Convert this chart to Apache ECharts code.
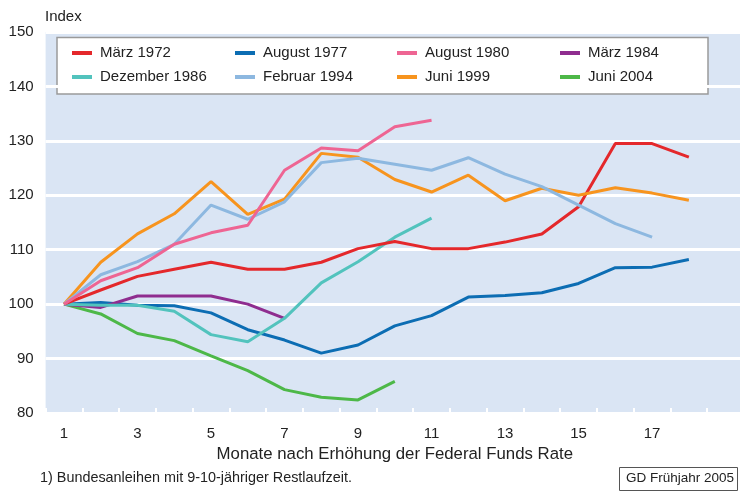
<!DOCTYPE html>
<html>
<head>
<meta charset="utf-8">
<script src="https://cdn.jsdelivr.net/npm/echarts@6/dist/echarts.min.js"></script>
<style>
  html, body { margin: 0; padding: 0; overflow: hidden; background: #fff; }
</style>
</head>
<body>
<div id="main" style="width: 744px; height: 493px;"></div>
<script type="text/javascript">
// months after the rate increase (last band left empty, plot runs on)
var months = ['1','2','3','4','5','6','7','8','9','10','11','12','13','14','15','16','17','18',''];

var maerz1972   = [100, 102.6, 105.1, 106.4, 107.7, 106.4, 106.4, 107.7, 110.2, 111.5, 110.2, 110.2, 111.4, 112.9, 117.9, 129.5, 129.5, 127.0];
var august1977  = [100, 100.3, 99.8, 99.7, 98.4, 95.3, 93.4, 91.0, 92.5, 96.0, 97.9, 101.3, 101.6, 102.1, 103.8, 106.7, 106.8, 108.2];
var august1980  = [100, 104.3, 106.7, 111.0, 113.1, 114.5, 124.6, 128.7, 128.2, 132.6, 133.8];
var maerz1984   = [100, 99.4, 101.5, 101.5, 101.5, 100.0, 97.4];
var dezember1986 = [100, 99.8, 99.8, 98.7, 94.4, 93.1, 97.4, 103.9, 107.8, 112.3, 115.8];
var februar1994 = [100, 105.4, 107.8, 111.0, 118.2, 115.6, 118.8, 126.0, 126.8, 125.7, 124.6, 126.9, 123.9, 121.6, 118.2, 114.8, 112.3];
var juni1999    = [100, 107.7, 112.9, 116.6, 122.5, 116.5, 119.3, 127.7, 127.0, 122.9, 120.6, 123.7, 119.0, 121.3, 120.0, 121.4, 120.4, 119.1];
var juni2004    = [100, 98.2, 94.6, 93.3, 90.5, 87.8, 84.3, 82.9, 82.4, 85.8];

var seriesDefs = [
  { name: 'März 1972',     data: maerz1972,    color: '#e4282b' },
  { name: 'Dezember 1986', data: dezember1986, color: '#52c3bd' },
  { name: 'August 1977',   data: august1977,   color: '#0c6db3' },
  { name: 'Februar 1994',  data: februar1994,  color: '#8db8e0' },
  { name: 'August 1980',   data: august1980,   color: '#ee6593' },
  { name: 'Juni 1999',     data: juni1999,     color: '#f7941e' },
  { name: 'März 1984',     data: maerz1984,    color: '#8f2d8f' },
  { name: 'Juni 2004',     data: juni2004,     color: '#4db848' }
];
// draw order (back to front)
var drawOrder = ['Juni 2004', 'August 1977', 'März 1984', 'Dezember 1986', 'März 1972', 'Juni 1999', 'Februar 1994', 'August 1980'];

var font = 'Liberation Sans, Arial, sans-serif';
var legendCols = [72, 235, 397, 560];

var legends = legendCols.map(function (x, i) {
  return {
    data: [seriesDefs[i * 2].name, seriesDefs[i * 2 + 1].name],
    orient: 'vertical',
    left: x,
    top: 45,
    padding: 0,
    itemGap: 8,
    itemWidth: 20,
    itemHeight: 4,
    icon: 'rect',
    selectedMode: false,
    textStyle: { fontFamily: font, fontSize: 15, color: '#222', lineHeight: 16, padding: [0, 0, 0, 3] }
  };
});

var series = drawOrder.map(function (n) {
  var s = seriesDefs.filter(function (d) { return d.name === n; })[0];
  return {
    name: s.name,
    type: 'line',
    data: s.data,
    symbol: 'none',
    color: s.color,
    lineStyle: { width: 3, color: s.color },
    animation: false
  };
});

var myChart = echarts.init(document.getElementById('main'));
myChart.setOption({
  animation: false,
  grid: {
    left: 45.6, right: 0, top: 32, bottom: 80,
    show: true, backgroundColor: '#dae5f4', borderWidth: 0
  },
  legend: legends,
  graphic: [
    {
      type: 'rect', z: 0,
      shape: { x: 57, y: 37.5, width: 651, height: 56.5 },
      style: { fill: '#fff', stroke: '#9a9a9a', lineWidth: 1.5 }
    },
    {
      type: 'text', left: 45, top: 9,
      style: { text: 'Index', fontFamily: font, fontSize: 15, fill: '#222' }
    },
    {
      type: 'text', left: 40, top: 471,
      style: { text: '1) Bundesanleihen mit 9-10-jähriger Restlaufzeit.', fontFamily: font, fontSize: 14.4, fill: '#222' }
    },
    {
      type: 'rect',
      shape: { x: 619.5, y: 467.5, width: 118, height: 23 },
      style: { fill: '#fff', stroke: '#555', lineWidth: 1 }
    },
    {
      type: 'text', left: 626, top: 471.5,
      style: { text: 'GD Frühjahr 2005', fontFamily: font, fontSize: 13.5, fill: '#222' }
    }
  ],
  xAxis: {
    type: 'category',
    data: months,
    boundaryGap: true,
    name: 'Monate nach Erhöhung der Federal Funds Rate',
    nameLocation: 'middle',
    nameGap: 32,
    nameTextStyle: { fontFamily: font, fontSize: 16.8, color: '#222' },
    axisLine: { show: false },
    axisTick: { show: true, inside: true, length: 5, interval: 0, lineStyle: { color: '#fff', width: 2 } },
    axisLabel: { interval: 1, margin: 13, fontFamily: font, fontSize: 15, color: '#222' },
    splitLine: { show: false }
  },
  yAxis: {
    type: 'value',
    min: 80, max: 150, interval: 10,
    axisLine: { show: false },
    axisTick: { show: false },
    axisLabel: { margin: 12, fontFamily: font, fontSize: 15, color: '#222' },
    splitLine: { show: true, lineStyle: { color: '#fff', width: 3 } }
  },
  series: series
});
</script>
</body>
</html>
